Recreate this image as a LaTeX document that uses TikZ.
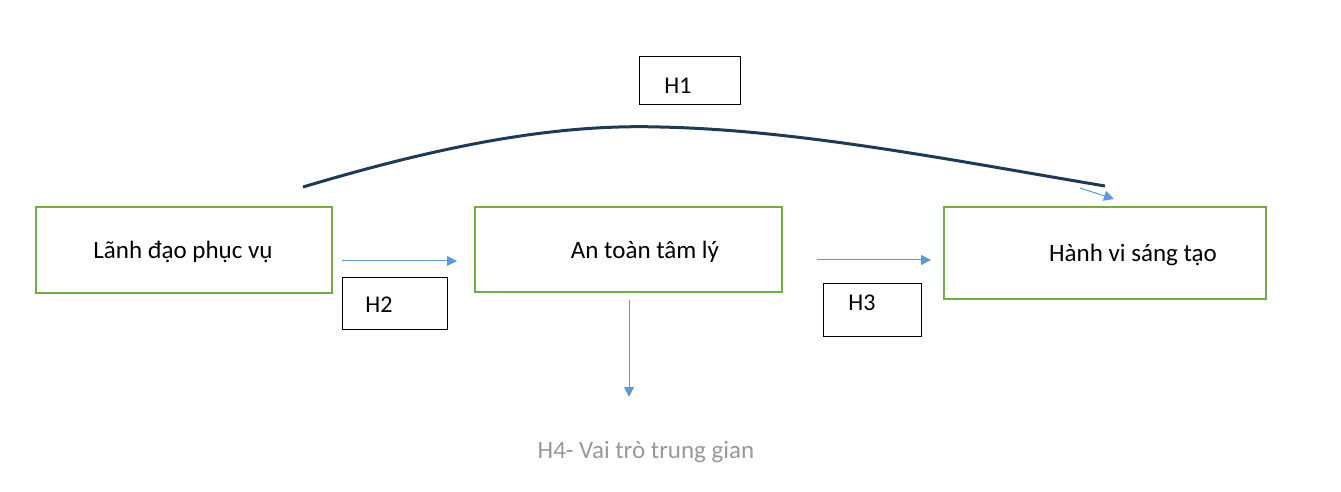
\documentclass[tikz,border=0pt]{standalone}
\usepackage{fontspec}
\setmainfont{Carlito}
\usetikzlibrary{arrows.meta}
\definecolor{grn}{HTML}{70AD47}
\definecolor{blu}{HTML}{5B9BD5}
\definecolor{navy}{HTML}{1F3A55}
\begin{document}
\begin{tikzpicture}[x=0.5pt,y=-0.5pt,
  box/.style={draw=grn,line width=1.1pt,font=\fontsize{12.5}{14}\selectfont},
  hbox/.style={draw=black,line width=0.4pt,font=\fontsize{12}{14}\selectfont},
  arr/.style={draw=blu,line width=0.5pt,-{Triangle[length=5pt,width=5pt]}}]
\useasboundingbox (0,0) rectangle (1341,492);
\draw[box] (36,207) rectangle (332,293); \node[font=\fontsize{12.5}{14}\selectfont] (a) at (183,252) {Lãnh đạo phục vụ};
\draw[box] (475,207) rectangle (782,292); \node[font=\fontsize{12.5}{14}\selectfont] (b) at (645,252) {An toàn tâm lý};
\draw[box] (944,207) rectangle (1266,299); \node[font=\fontsize{12.5}{14}\selectfont] (c) at (1133,255) {Hành vi sáng tạo};
\draw[hbox] (639,56) rectangle (740,104); \node[font=\fontsize{12}{14}\selectfont] (h1) at (678,86) {H1};
\draw[hbox] (342,277) rectangle (447,329); \node[font=\fontsize{12}{14}\selectfont] (h2) at (379,305) {H2};
\draw[hbox] (823,283) rectangle (921,336); \node[font=\fontsize{12}{14}\selectfont] (h3) at (862,303) {H3};
\coordinate (a1) at (342,261); \coordinate (a2) at (457,261);
\coordinate (b1) at (817,260); \coordinate (b2) at (931,260);
\coordinate (d1) at (629,300); \coordinate (d2) at (629,397);
\draw[arr] (a1) -- (a2);
\draw[arr] (b1) -- (b2);
\draw[arr] (d1) -- (d2);
\coordinate (s) at (303,187); \coordinate (e) at (1105,186);
\draw[navy,line width=1.5pt] (s) .. controls (450,143) and (560,124) .. (660,127) .. controls (800,130) and (950,160) .. (e);
\coordinate (t1) at (1080,188); \coordinate (t2) at (1114,199);
\draw[arr] (t1) -- (t2);
\node[text=gray!80,font=\fontsize{12.5}{14}\selectfont] (h4) at (646,452) {H4- Vai trò trung gian};
\end{tikzpicture}
\end{document}
